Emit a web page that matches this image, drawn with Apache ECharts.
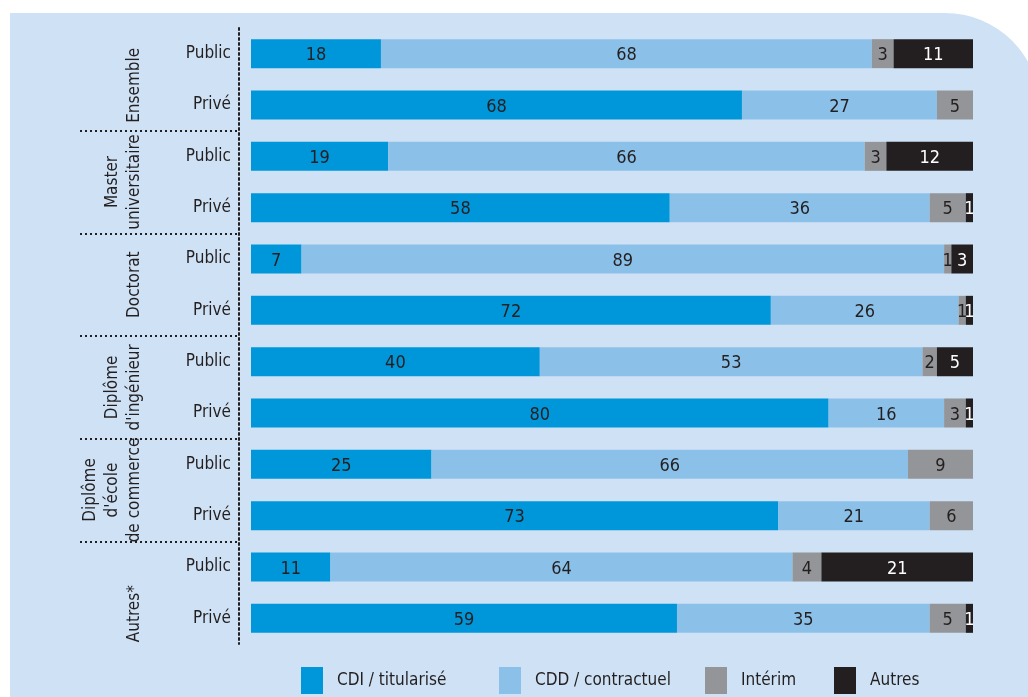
<!DOCTYPE html>
<html>
<head>
<meta charset="utf-8">
<script src="https://cdn.jsdelivr.net/npm/echarts@6/dist/echarts.min.js"></script>
<style>
  html, body { margin: 0; padding: 0; background: #fff; }
  #chart { width: 1028px; height: 697px; }
</style>
</head>
<body>
<div id="chart"></div>
<script>
// rows (top to bottom) and their groups
const rows = ["Public", "Privé", "Public", "Privé", "Public", "Privé",
  "Public", "Privé", "Public", "Privé", "Public", "Privé"];
const groups = ["Ensemble", "Master\nuniversitaire", "Doctorat",
  "Diplôme\nd'ingénieur", "Diplôme\nd'école\nde commerce", "Autres*"];

// shares in %
const cdi = [18, 68, 19, 58, 7, 72, 40, 80, 25, 73, 11, 59];
const cdd = [68, 27, 66, 36, 89, 26, 53, 16, 66, 21, 64, 35];
const interim = [3, 5, 3, 5, 1, 1, 2, 3, 9, 6, 4, 5];
const autres = [11, 0, 12, 1, 3, 1, 5, 1, 0, 0, 21, 1];

const seriesNames = ["CDI / titularisé", "CDD / contractuel", "Intérim", "Autres"];
const colors = ["#0096da", "#8bc0e8", "#939598", "#231f20"];
const labelColors = ["#231f20", "#231f20", "#231f20", "#ffffff"];

const font = "'DejaVu Sans Condensed', 'DejaVu Sans', sans-serif";
const dark = "#231f20";

// a few group labels sit a bit lower than the middle of their group
const groupShift = { "Ensemble": 12, "Autres*": 42 };

const chart = echarts.init(document.getElementById("chart"));

function makeSeries(name, values, i) {
  return {
    name: name,
    type: "bar",
    stack: "total",
    xAxisIndex: 0,
    yAxisIndex: 0,
    barWidth: 29,
    data: values,
    itemStyle: { color: colors[i] },
    label: {
      show: true,
      position: "inside",
      offset: [0, 2],
      color: labelColors[i],
      fontFamily: font,
      fontSize: 18,
      formatter: function (p) { return p.value ? String(p.value) : ""; }
    },
    emphasis: { disabled: true }
  };
}

const legendLefts = [296, 494, 700, 829];

const option = {
  animation: false,
  backgroundColor: "#ffffff",
  graphic: [{
    type: "rect",
    z: -10,
    shape: { x: 10, y: 13, width: 1030, height: 700, r: [0, 95, 0, 0] },
    style: { fill: "#cfe2f5" }
  }],
  legend: seriesNames.map(function (n, i) {
    return {
      data: [n],
      left: legendLefts[i],
      top: 662,
      icon: "rect",
      itemWidth: 22,
      itemHeight: 27,
      selectedMode: false,
      textStyle: { fontFamily: font, fontSize: 17, color: dark, padding: [0, 0, 0, 9] }
    };
  }),
  grid: [
    { left: 251, right: 55, top: 28, bottom: 53 },
    { left: 80, width: 159, top: 28, bottom: 53 }
  ],
  xAxis: [
    { gridIndex: 0, type: "value", min: 0, max: 100, show: false },
    { gridIndex: 1, type: "value", min: 0, max: 1, show: false }
  ],
  yAxis: [
    {
      gridIndex: 0,
      type: "category",
      data: rows,
      inverse: true,
      offset: 12,
      axisLine: { show: true, onZero: false, lineStyle: { color: dark, width: 2, type: [2, 3] } },
      axisTick: { show: false },
      axisLabel: { interval: 0, margin: 8, fontFamily: font, fontSize: 17, color: dark }
    },
    {
      gridIndex: 1,
      type: "category",
      data: groups.map(function (g) {
        return { value: g, textStyle: { padding: [0, groupShift[g] || 0, 0, 0] } };
      }),
      inverse: true,
      position: "right",
      axisLine: { show: false, onZero: false },
      axisTick: { show: false },
      splitLine: {
        show: true,
        interval: 0,
        showMinLine: false,
        showMaxLine: false,
        lineStyle: { color: dark, width: 2, type: [2, 3] }
      },
      axisLabel: {
        interval: 0,
        inside: true,
        rotate: 90,
        margin: 93,
        fontFamily: font,
        fontSize: 17,
        lineHeight: 22,
        color: dark
      }
    }
  ],
  series: [
    makeSeries(seriesNames[0], cdi, 0),
    makeSeries(seriesNames[1], cdd, 1),
    makeSeries(seriesNames[2], interim, 2),
    makeSeries(seriesNames[3], autres, 3)
  ]
};

chart.setOption(option);
</script>
</body>
</html>
